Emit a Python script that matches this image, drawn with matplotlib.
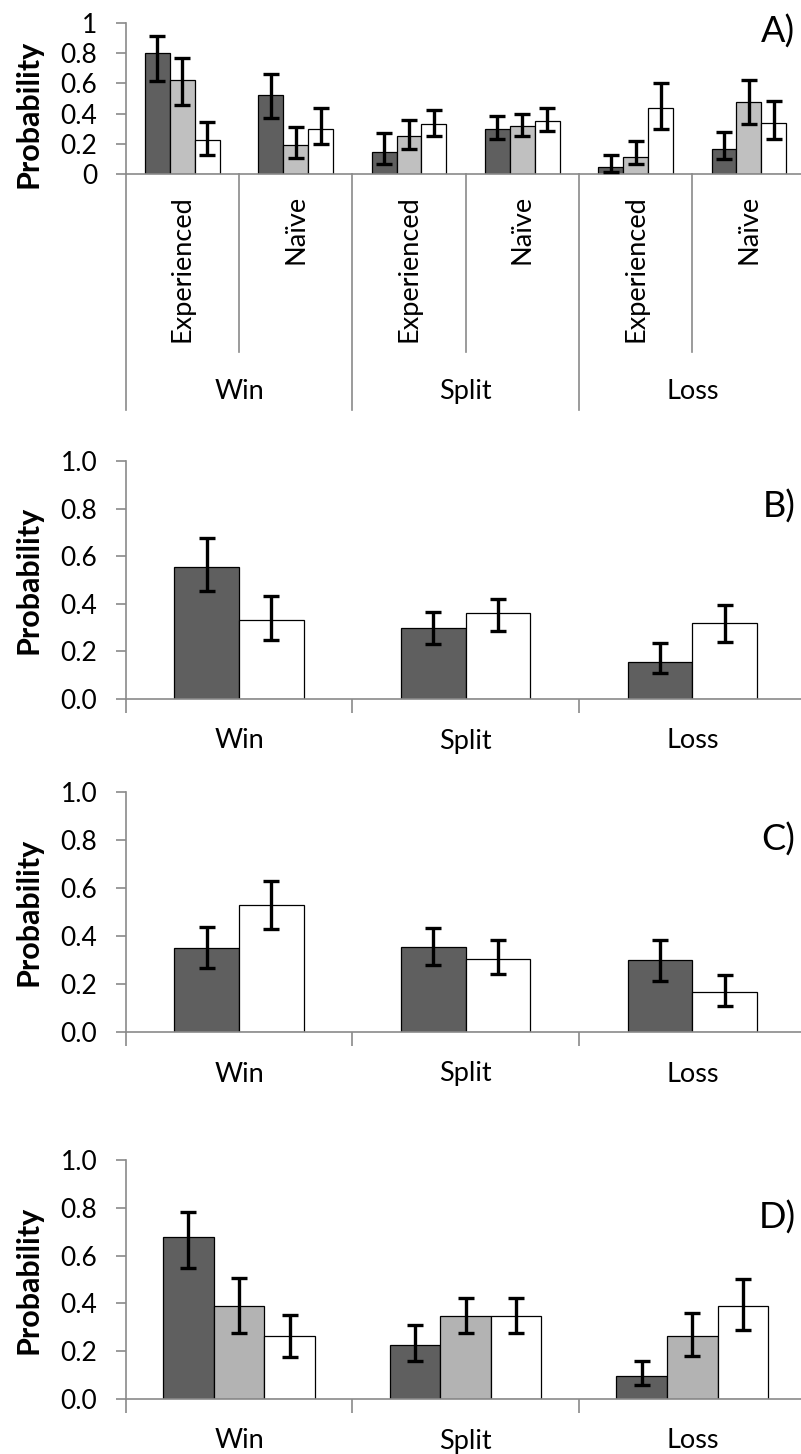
import matplotlib
matplotlib.use("Agg")
import matplotlib.pyplot as plt
import matplotlib.transforms as mtransforms
import numpy as np

plt.rcParams['font.family'] = ['Lato', 'DejaVu Sans']

# ---------------- data ----------------
# Panel A: six sub-groups (outcome x experience), three series
a_outcomes = ["Win", "Split", "Loss"]
a_sub = ["Experienced", "Naïve"]
a_dark = [0.80, 0.52, 0.145, 0.30, 0.045, 0.165]
a_dark_lo = [0.615, 0.37, 0.07, 0.23, 0.015, 0.10]
a_dark_hi = [0.915, 0.66, 0.27, 0.385, 0.13, 0.28]
a_light = [0.62, 0.19, 0.25, 0.32, 0.115, 0.475]
a_light_lo = [0.455, 0.11, 0.17, 0.25, 0.065, 0.335]
a_light_hi = [0.765, 0.315, 0.355, 0.40, 0.22, 0.625]
a_white = [0.225, 0.30, 0.33, 0.35, 0.44, 0.34]
a_white_lo = [0.13, 0.20, 0.255, 0.285, 0.30, 0.23]
a_white_hi = [0.345, 0.435, 0.425, 0.435, 0.60, 0.485]

outcomes = ["Win", "Split", "Loss"]

# Panel B
b_dark = [0.555, 0.298, 0.155]
b_dark_lo = [0.455, 0.23, 0.108]
b_dark_hi = [0.675, 0.366, 0.235]
b_white = [0.33, 0.36, 0.318]
b_white_lo = [0.25, 0.287, 0.239]
b_white_hi = [0.434, 0.422, 0.396]

# Panel C
c_dark = [0.348, 0.354, 0.299]
c_dark_lo = [0.267, 0.281, 0.213]
c_dark_hi = [0.439, 0.434, 0.383]
c_white = [0.529, 0.305, 0.166]
c_white_lo = [0.431, 0.242, 0.108]
c_white_hi = [0.631, 0.383, 0.239]

# Panel D
d_dark = [0.678, 0.226, 0.098]
d_dark_lo = [0.548, 0.157, 0.059]
d_dark_hi = [0.782, 0.31, 0.16]
d_light = [0.391, 0.349, 0.262]
d_light_lo = [0.275, 0.275, 0.178]
d_light_hi = [0.507, 0.422, 0.359]
d_white = [0.262, 0.349, 0.391]
d_white_lo = [0.177, 0.276, 0.287]
d_white_hi = [0.353, 0.422, 0.503]

# ---------------- style ----------------
W, H = 801, 1454
DARK = "#5f5f5f"
LIGHT_A = "#c0c0c0"
LIGHT_D = "#b3b3b3"
AXC = "#8a8a8a"
TICK_FS = 19
LAB_FS = 19.5
PANEL_FS = 26
YLAB_FS = 22

fig = plt.figure(figsize=(W / 100, H / 100), dpi=100)


def add_axes_px(left, right, top, bottom):
    return fig.add_axes([left / W, 1 - bottom / H, (right - left) / W, (bottom - top) / H])


def style_axes(ax, ticklabels):
    ax.set_ylim(0, 1)
    for s in ["top", "right"]:
        ax.spines[s].set_visible(False)
    for s in ["left", "bottom"]:
        ax.spines[s].set_color(AXC)
        ax.spines[s].set_linewidth(1.2)
    ax.set_yticks(np.linspace(0, 1, 6))
    ax.set_yticklabels(ticklabels, fontsize=TICK_FS)
    ax.tick_params(axis="y", direction="out", length=7.5, width=1.2, color=AXC, pad=13)
    ax.patch.set_visible(False)


def bars(ax, centers, vals, lo, hi, color, width):
    vals = np.array(vals)
    yerr = np.vstack([vals - np.array(lo), np.array(hi) - vals])
    ax.bar(centers, vals, width=width, color=color, edgecolor="black", linewidth=0.9, zorder=2)
    ax.errorbar(centers, vals, yerr=yerr, fmt="none", ecolor="black", elinewidth=2.4,
                capsize=6, capthick=2.4, zorder=3)


# ---------------- Panel A ----------------
axA = add_axes_px(125.7, 805.6, 22.7, 174.3)
style_axes(axA, ["0", "0.2", "0.4", "0.6", "0.8", "1"])
axA.set_xlim(0, 6)
axA.set_xticks([])
nA = len(a_dark)
cA = np.arange(nA) + 0.5
wA = 0.22
bars(axA, cA - wA, a_dark, a_dark_lo, a_dark_hi, DARK, wA)
bars(axA, cA, a_light, a_light_lo, a_light_hi, LIGHT_A, wA)
bars(axA, cA + wA, a_white, a_white_lo, a_white_hi, "white", wA)
hA = 174.3 - 22.7
trA = mtransforms.blended_transform_factory(axA.transData, axA.transAxes)
for i in range(nA + 1):
    long_line = (i % 2 == 0)
    yb = -(410 - 174.3) / hA if long_line else -(351.7 - 174.3) / hA
    axA.plot([i, i], [0, yb], color=AXC, lw=1.2, transform=trA, clip_on=False)
for i in range(nA):
    axA.text(i + 0.5, -21 / hA, a_sub[i % 2], rotation=90, ha="center", va="top",
             fontsize=LAB_FS, transform=trA)
for j, o in enumerate(a_outcomes):
    axA.text(2 * j + 1, -(391.7 - 174.3) / hA, o, ha="center", va="center",
             fontsize=LAB_FS, transform=trA)
axA.text(0.985, 0.94, "A)", transform=axA.transAxes, ha="right", va="center", fontsize=PANEL_FS)
fig.text(29 / W, 1 - 114 / H, "Probability", rotation=90, ha="center", va="center",
         fontsize=YLAB_FS, fontweight="bold")


# ---------------- Panels B-D ----------------
def panel(top, bottom, series, label, label_y):
    ax = add_axes_px(125.7, 805.6, top, bottom)
    style_axes(ax, ["0.0", "0.2", "0.4", "0.6", "0.8", "1.0"])
    n = len(outcomes)
    ax.set_xlim(0, n)
    ax.set_xticks(np.arange(n + 1))
    ax.set_xticklabels([])
    ax.tick_params(axis="x", direction="out", length=10, width=1.2, color=AXC)
    c = np.arange(n) + 0.5
    k = len(series)
    w = 0.285 if k == 2 else 0.223
    offs = (np.arange(k) - (k - 1) / 2) * w
    for (vals, lo, hi, col), off in zip(series, offs):
        bars(ax, c + off, vals, lo, hi, col, w)
    h = bottom - top
    tr = mtransforms.blended_transform_factory(ax.transData, ax.transAxes)
    for i, o in enumerate(outcomes):
        ax.text(i + 0.5, -42 / h, o, ha="center", va="center", fontsize=LAB_FS, transform=tr)
    ax.text(0.985, label_y, label, transform=ax.transAxes, ha="right", va="center", fontsize=PANEL_FS)
    fig.text(29 / W, 1 - (top + bottom) / 2 / H, "Probability", rotation=90, ha="center",
             va="center", fontsize=YLAB_FS, fontweight="bold")
    return ax


panel(461, 699, [(b_dark, b_dark_lo, b_dark_hi, DARK),
                 (b_white, b_white_lo, b_white_hi, "white")], "B)", 0.81)
panel(792, 1032, [(c_dark, c_dark_lo, c_dark_hi, DARK),
                  (c_white, c_white_lo, c_white_hi, "white")], "C)", 0.80)
panel(1160, 1399, [(d_dark, d_dark_lo, d_dark_hi, DARK),
                   (d_light, d_light_lo, d_light_hi, LIGHT_D),
                   (d_white, d_white_lo, d_white_hi, "white")], "D)", 0.76)

fig.savefig("out.png", dpi=100)
